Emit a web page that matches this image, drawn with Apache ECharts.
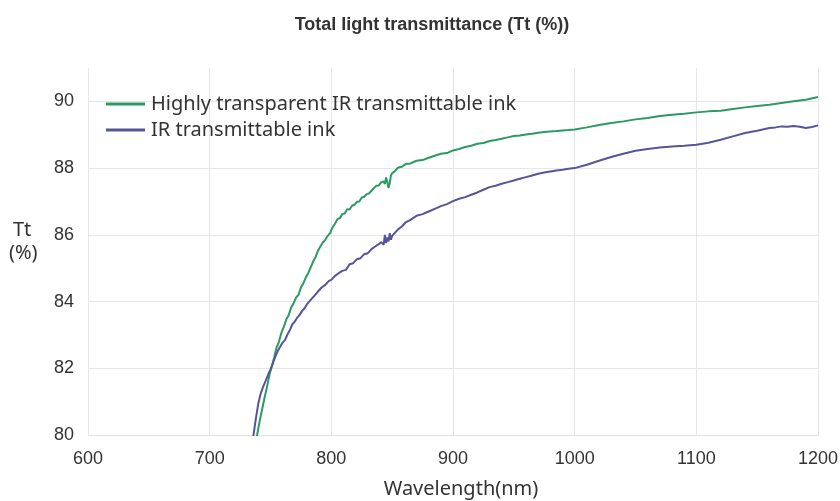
<!DOCTYPE html>
<html>
<head>
<meta charset="utf-8">
<script src="https://cdn.jsdelivr.net/npm/echarts@6/dist/echarts.min.js"></script>
<style>html,body{margin:0;padding:0;background:#fff}#c{width:840px;height:501px}</style>
</head>
<body>
<div id="c"></div>
<script>
const titleText = 'Total light transmittance (Tt (%))';
const seriesNames = ['Highly transparent IR transmittable ink', 'IR transmittable ink'];
const xTicks = [600, 700, 800, 900, 1000, 1100, 1200];
const yTicks = [80, 82, 84, 86, 88, 90];

const greenWl = [737,739,741,743,745,747,749,751,753,755,757,759,761,763,765,767,769,771,773,775,777,779,781,783,785,787,789,791,793,795,797,799,801,803,805,807,809,811,813,815,817,819,821,823,825,827,829,831,833,835,837,839,841,843,844,845,846,847,848,849,850,852,855,858,861,865,870,875,880,885,890,895,900,905,910,915,920,925,930,935,940,945,950,955,960,965,970,975,980,985,990,995,1000,1010,1020,1030,1040,1050,1060,1070,1080,1090,1100,1110,1120,1130,1140,1150,1160,1170,1180,1190,1200];
const greenTt = [79.7,80.0,80.4,80.75,81.1,81.42,81.78,82.05,82.32,82.62,82.8,83.07,83.25,83.47,83.6,83.82,83.95,84.12,84.2,84.42,84.55,84.72,84.85,85.02,85.2,85.33,85.52,85.65,85.77,85.85,85.97,86.05,86.22,86.33,86.47,86.5,86.62,86.64,86.77,86.76,86.87,86.9,86.99,87.0,87.12,87.14,87.22,87.24,87.32,87.4,87.47,87.48,87.58,87.6,87.52,87.72,87.58,87.4,87.55,87.78,87.85,87.9,88.02,88.04,88.12,88.14,88.22,88.24,88.31,88.37,88.43,88.45,88.53,88.57,88.63,88.67,88.73,88.75,88.81,88.84,88.88,88.92,88.96,88.98,89.01,89.03,89.06,89.08,89.1,89.11,89.13,89.14,89.16,89.22,89.29,89.35,89.4,89.46,89.5,89.56,89.6,89.63,89.67,89.7,89.72,89.77,89.82,89.86,89.9,89.95,90.0,90.05,90.13];

const blueWl = [735,736,738,740,742,744,746,748,750,752,754,756,758,760,762,764,766,768,770,772,774,776,778,780,783,786,789,792,795,798,800,803,806,809,812,815,818,821,824,827,830,833,836,839,841,843,844,845,846,847,848,849,850,852,855,858,861,865,870,875,880,885,890,895,900,905,910,915,920,925,930,935,940,945,950,955,960,965,970,975,980,985,990,995,1000,1010,1020,1030,1040,1050,1060,1070,1080,1090,1100,1110,1120,1130,1140,1150,1160,1165,1170,1175,1180,1185,1190,1195,1200];
const blueTt = [79.8,80.0,80.5,80.95,81.25,81.45,81.62,81.8,81.97,82.15,82.35,82.52,82.65,82.77,82.85,83.02,83.15,83.32,83.4,83.52,83.6,83.72,83.8,83.92,84.05,84.17,84.3,84.42,84.5,84.62,84.65,84.77,84.85,84.92,84.95,85.12,85.15,85.27,85.3,85.42,85.45,85.57,85.65,85.72,85.78,85.7,86.0,85.75,85.92,85.8,86.05,85.85,85.97,86.05,86.17,86.25,86.37,86.45,86.57,86.62,86.7,86.78,86.86,86.92,87.01,87.08,87.13,87.2,87.27,87.35,87.43,87.47,87.53,87.58,87.63,87.68,87.73,87.78,87.83,87.87,87.9,87.93,87.95,87.98,88.0,88.1,88.22,88.33,88.43,88.52,88.57,88.62,88.65,88.67,88.7,88.76,88.85,88.95,89.05,89.12,89.2,89.22,89.25,89.24,89.26,89.24,89.2,89.23,89.28];

const colors = ['#2b9a63', '#55559b'];
const arial = '"Liberation Sans", Arial, sans-serif';
const gothic = '"Noto Sans", "Noto Sans CJK JP", sans-serif';

const chart = echarts.init(document.getElementById('c'), null, {renderer: 'canvas'});
chart.setOption({
  animation: false,
  backgroundColor: '#ffffff',
  title: {
    text: titleText,
    left: 427, top: 11, textAlign: 'center',
    textStyle: {fontFamily: arial, fontSize: 18, fontWeight: 'bold', color: '#333333'}
  },
  legend: {
    orient: 'vertical',
    left: 101, top: 89,
    itemWidth: 39, itemHeight: 3, itemGap: 6,
    icon: 'rect',
    data: seriesNames,
    textStyle: {fontFamily: gothic, fontSize: 20, color: '#333333', padding: [0, 0, 0, 1]}
  },
  grid: {left: 88, right: 22, top: 68, bottom: 66, containLabel: false, outerBoundsMode: 'none'},
  xAxis: {
    type: 'value', min: xTicks[0], max: xTicks[xTicks.length - 1], interval: 100,
    name: 'Wavelength(nm)', nameLocation: 'middle', nameGap: 44,
    nameTextStyle: {fontFamily: gothic, fontSize: 20, color: '#333333', padding: [0, 0, 0, 16]},
    axisLine: {show: true, lineStyle: {color: '#e2e2e2', width: 1}},
    axisTick: {show: false},
    axisLabel: {fontFamily: arial, fontSize: 18, color: '#333333', margin: 15,
      formatter: v => String(v)},
    splitLine: {show: true, lineStyle: {color: '#e6e6e6', width: 1}}
  },
  yAxis: {
    type: 'value', min: yTicks[0], max: 91, interval: 2,
    axisLine: {show: false},
    axisTick: {show: false},
    axisLabel: {fontFamily: arial, fontSize: 18, color: '#333333', margin: 14,
      formatter: v => (yTicks.indexOf(v) >= 0 ? String(v) : '')},
    splitLine: {show: true, showMaxLine: false, lineStyle: {color: '#e6e6e6', width: 1}}
  },
  graphic: [
    {type: 'text', left: 13, top: 220, style: {text: 'Tt', font: '20px "Noto Sans", sans-serif', fill: '#333333'}},
    {type: 'text', left: 9, top: 243, style: {text: '(%)', font: '20px "Noto Sans", sans-serif', fill: '#333333'}}
  ],
  series: [
    {name: seriesNames[0], type: 'line', showSymbol: false, symbol: 'none', clip: true,
     lineStyle: {color: colors[0], width: 2}, itemStyle: {color: colors[0]},
     data: greenWl.map((w, i) => [w, greenTt[i]])},
    {name: seriesNames[1], type: 'line', showSymbol: false, symbol: 'none', clip: true,
     lineStyle: {color: colors[1], width: 2}, itemStyle: {color: colors[1]},
     data: blueWl.map((w, i) => [w, blueTt[i]])}
  ]
});
</script>
</body>
</html>
